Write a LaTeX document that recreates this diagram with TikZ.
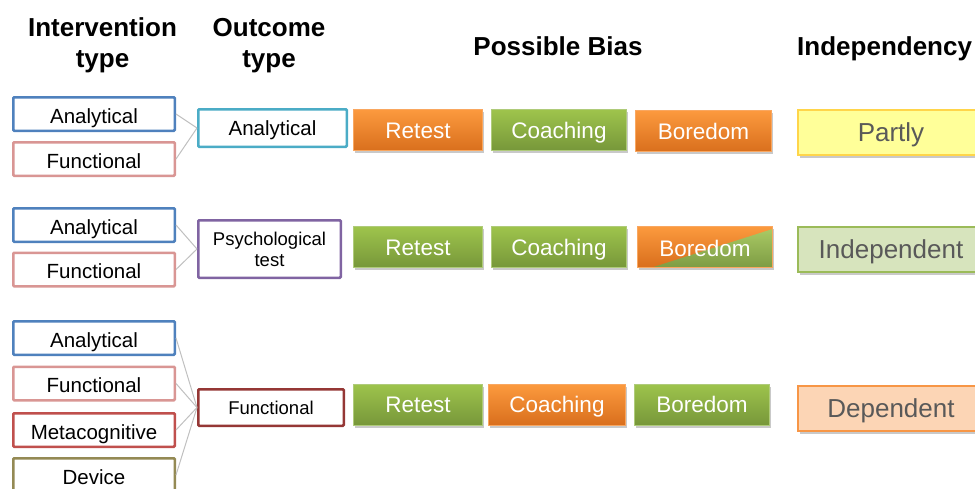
\documentclass[tikz,border=0pt]{standalone}
\usepackage{fontspec}
\setmainfont{Liberation Sans}
\usetikzlibrary{shadows,calc}
\definecolor{intblue}{HTML}{4F81BD}
\definecolor{intpink}{HTML}{D99694}
\definecolor{intred}{HTML}{C0504D}
\definecolor{intolive}{HTML}{948A54}
\definecolor{outteal}{HTML}{4BACC6}
\definecolor{outpurple}{HTML}{8064A2}
\definecolor{outdred}{HTML}{953735}
\definecolor{orgtop}{HTML}{FC9A3E}
\definecolor{orgbot}{HTML}{D96F1D}
\definecolor{orgline}{HTML}{F9A760}
\definecolor{grntop}{HTML}{9EC44C}
\definecolor{grnbot}{HTML}{77973A}
\definecolor{grnline}{HTML}{AFCB7A}
\definecolor{ylwfill}{HTML}{FFFF99}
\definecolor{ylwline}{HTML}{FFD54A}
\definecolor{indfill}{HTML}{D7E4BD}
\definecolor{indline}{HTML}{9BBB59}
\definecolor{depfill}{HTML}{FCD5B5}
\definecolor{depline}{HTML}{F79646}
\definecolor{txtgray}{HTML}{595959}
\definecolor{conngray}{HTML}{C0C0C0}
\begin{document}
\begin{tikzpicture}[x=1pt,y=-1pt,
  header/.style={font=\bfseries\fontsize{26}{29}\selectfont, inner sep=0pt},
  intbox/.style={draw=#1, line width=2.5pt, fill=white, rounded corners=1pt,
    minimum width=161.5pt, minimum height=33.5pt, inner sep=0pt,
    text height=18.7pt, text depth=0pt,
    font=\fontsize{20.5}{24}\selectfont},
  outbox/.style={draw=#1, line width=2.5pt, fill=white, rounded corners=1pt,
    minimum height=37.5pt, inner sep=0pt,
    font=\fontsize{18.5}{21}\selectfont},
  biasbox/.style={line width=1pt, inner sep=0pt, minimum height=41pt,
    text=white, text height=16.2pt, text depth=0pt,
    font=\fontsize{22.5}{26}\selectfont,
    drop shadow={shadow xshift=1.5pt, shadow yshift=-2.5pt, opacity=0.3, fill=black!70}},
  orgbox/.style={biasbox, draw=orgline, top color=orgtop, bottom color=orgbot},
  grnbox/.style={biasbox, draw=grnline, top color=grntop, bottom color=grnbot},
  depbox/.style={draw=#1, line width=2pt, inner sep=0pt, minimum width=186pt,
    minimum height=45pt, text=txtgray, text height=18.7pt, text depth=0pt,
    font=\fontsize{26}{30}\selectfont,
    drop shadow={shadow xshift=1.5pt, shadow yshift=-2.5pt, opacity=0.3, fill=black!70}},
  conn/.style={draw=conngray, line width=1pt}
]
\useasboundingbox (0,0) rectangle (975,488);

% headers
\node[header, anchor=base] (h1a) at (102.5,36) {Intervention};
\node[header, anchor=base] (h1b) at (102.5,67) {type};
\node[header, anchor=base] (h2a) at (269,36) {Outcome};
\node[header, anchor=base] (h2b) at (269,67) {type};
\node[header, anchor=base] (h3) at (558,55) {Possible Bias};
\node[header, anchor=base west] (h4) at (797,55) {Independency};

% group 1
\node[intbox=intblue] (a1) at (94,114) {Analytical};
\node[intbox=intpink] (f1) at (94,159) {Functional};
\node[outbox=outteal, minimum width=148.5pt, text height=15.5pt, text depth=0pt,
  font=\fontsize{20.5}{24}\selectfont] (o1) at (272.5,128) {Analytical};
\draw[conn] (a1.east) -- (o1.west);
\draw[conn] (f1.east) -- (o1.west);
\node[orgbox, minimum width=129pt] (r1) at (418,130) {Retest};
\node[grnbox, minimum width=135pt] (c1) at (559,130) {Coaching};
\node[orgbox, minimum width=136pt] (b1) at (703.5,131) {Boredom};
\node[depbox=ylwline, fill=ylwfill] (p1) at (891,132.5) {Partly};

% group 2
\node[intbox=intblue] (a2) at (94,225) {Analytical};
\node[intbox=intpink] (f2) at (94,269.5) {Functional};
\node[outbox=outpurple, minimum width=142.5pt, minimum height=57.5pt, align=center] (o2) at (269.5,249) {Psychological\\test};
\draw[conn] (a2.east) -- (o2.west);
\draw[conn] (f2.east) -- (o2.west);
\node[grnbox, minimum width=129pt] (r2) at (418,247) {Retest};
\node[grnbox, minimum width=135pt] (c2) at (559,247) {Coaching};
\node[orgbox, minimum width=135pt, text height=20.5pt,
  path picture={\shade[top color=grntop!85!white, bottom color=grnbot!95!white]
    ($(path picture bounding box.south west)+(16,0)$) --
    ($(path picture bounding box.north east)+(0,3)$) --
    (path picture bounding box.south east) -- cycle;}] (b2) at (705,246.5) {Boredom};
\node[depbox=indline, fill=indfill] (p2) at (891,249.5) {Independent};

% group 3
\node[intbox=intblue] (a3) at (94,338) {Analytical};
\node[intbox=intpink] (f3) at (94,383.5) {Functional};
\node[intbox=intred] (m3) at (94,430) {Metacognitive};
\node[intbox=intolive] (d3) at (94,475) {Device};
\node[outbox=outdred, minimum width=145.5pt, minimum height=36.5pt, text height=13.3pt, text depth=0pt] (o3) at (271,407.5) {Functional};
\draw[conn] (a3.east) -- (o3.west);
\draw[conn] (f3.east) -- (o3.west);
\draw[conn] (m3.east) -- (o3.west);
\draw[conn] (d3.east) -- (o3.west);
\node[grnbox, minimum width=129pt] (r3) at (418,404.5) {Retest};
\node[orgbox, minimum width=137pt] (c3) at (557,404.5) {Coaching};
\node[grnbox, minimum width=135pt] (b3) at (702,404.5) {Boredom};
\node[depbox=depline, fill=depfill] (p3) at (891,408.5) {Dependent};
\end{tikzpicture}
\end{document}
